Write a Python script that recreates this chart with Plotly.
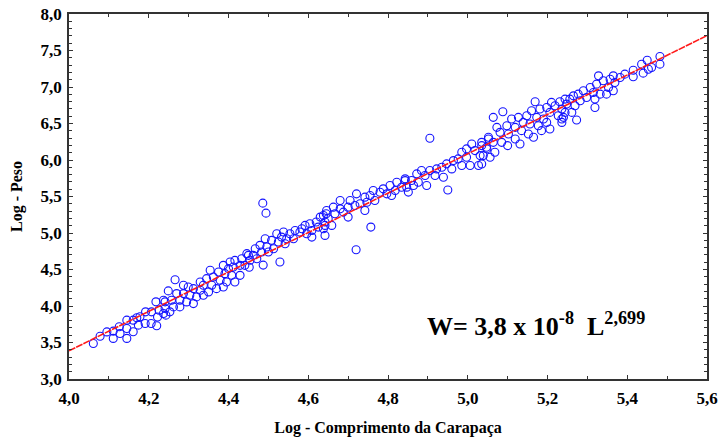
import plotly.graph_objects as go

# Log carapace length (x) and log weight (y) of each individual
log_length = [
    4.061, 4.078, 4.095, 4.111, 4.111, 4.126, 4.128, 4.145, 4.145, 4.145,
    4.161, 4.161, 4.174, 4.178, 4.191, 4.192, 4.206, 4.207, 4.220, 4.218,
    4.226, 4.241, 4.243, 4.249, 4.222, 4.170,
    4.450, 4.433, 4.416, 4.404, 4.387, 4.400, 4.412, 4.429, 4.441, 4.354,
    4.375, 4.391, 4.408, 4.429, 4.345, 4.362, 4.379, 4.395, 4.416, 4.266,
    4.329, 4.337, 4.358, 4.370, 4.387, 4.287, 4.299, 4.312, 4.329, 4.350,
    4.270, 4.287, 4.303, 4.320, 4.337, 4.237, 4.257, 4.278, 4.295, 4.312,
    4.241, 4.262, 4.278, 4.237, 4.253,
    4.486, 4.494, 4.645, 4.630, 4.642, 4.620, 4.604, 4.592, 4.625, 4.584,
    4.609, 4.638, 4.567, 4.579, 4.538, 4.554, 4.596, 4.609, 4.521, 4.533,
    4.546, 4.563, 4.492, 4.508, 4.525, 4.542, 4.479, 4.496, 4.513, 4.467,
    4.483, 4.500, 4.529, 4.446, 4.462, 4.454, 4.471, 4.452, 4.487,
    4.843, 4.822, 4.805, 4.788, 4.818, 4.834, 4.763, 4.780, 4.797, 4.809,
    4.721, 4.742, 4.755, 4.767, 4.680, 4.705, 4.717, 4.730, 4.747, 4.700,
    4.742, 4.663, 4.680, 4.688, 4.646, 4.667, 4.700, 4.638, 4.650, 4.642,
    4.659, 4.642, 4.757, 4.720,
    4.905, 5.052, 5.010, 5.035, 4.997, 5.018, 5.048, 4.985, 4.964, 4.976,
    4.997, 5.031, 5.027, 5.006, 4.985, 4.947, 4.935, 4.960, 4.922, 4.905,
    4.884, 4.872, 4.893, 4.918, 4.939, 4.843, 4.859, 4.876, 4.897, 4.847,
    4.864, 4.851, 4.950,
    5.064, 5.088, 5.169, 5.210, 5.231, 5.244, 5.219, 5.198, 5.181, 5.160,
    5.236, 5.206, 5.227, 5.236, 5.148, 5.173, 5.190, 5.110, 5.127, 5.139,
    5.156, 5.177, 5.198, 5.206, 5.185, 5.098, 5.119, 5.135, 5.152, 5.165,
    5.073, 5.081, 5.102, 5.119, 5.131, 5.052, 5.064, 5.085, 5.100, 5.035,
    5.047, 5.068, 5.039, 5.056, 5.035,
    5.450, 5.436, 5.453, 5.415, 5.394, 5.365, 5.382, 5.357, 5.328, 5.340,
    5.369, 5.323, 5.353, 5.365, 5.307, 5.315, 5.332, 5.348, 5.290, 5.277,
    5.298, 5.319, 5.265, 5.282, 5.256, 5.248, 5.269, 5.319, 5.244, 5.261,
    5.240, 5.273, 5.236, 5.415,
    5.482, 5.482, 5.461, 5.440,
]
log_weight = [
    3.487, 3.585, 3.645, 3.656, 3.556, 3.715, 3.624, 3.806, 3.692, 3.556,
    3.806, 3.647, 3.738, 3.852, 3.761, 3.920, 3.761, 3.920, 3.729, 4.057,
    3.943, 4.057, 3.875, 4.207, 3.850, 3.840,
    4.694, 4.648, 4.625, 4.603, 4.557, 4.512, 4.535, 4.557, 4.557, 4.489,
    4.466, 4.443, 4.420, 4.420, 4.375, 4.398, 4.352, 4.329, 4.329, 4.360,
    4.329, 4.284, 4.284, 4.238, 4.261, 4.284, 4.261, 4.238, 4.216, 4.193,
    4.170, 4.170, 4.147, 4.125, 4.147, 4.079, 4.079, 4.079, 4.056, 4.033,
    3.965, 3.988, 3.988, 3.897, 3.920,
    5.409, 5.272, 5.263, 5.218, 5.150, 5.150, 5.127, 5.104, 5.081, 5.058,
    5.035, 5.058, 5.035, 5.013, 5.013, 4.990, 4.990, 4.944, 4.990, 4.944,
    4.922, 4.922, 4.922, 4.899, 4.876, 4.853, 4.831, 4.808, 4.785, 4.785,
    4.740, 4.740, 4.603, 4.717, 4.694, 4.626, 4.648, 4.530, 4.560,
    5.718, 5.696, 5.650, 5.605, 5.582, 5.627, 5.582, 5.559, 5.536, 5.514,
    5.536, 5.491, 5.514, 5.445, 5.445, 5.445, 5.377, 5.400, 5.422, 5.354,
    5.308, 5.354, 5.331, 5.286, 5.308, 5.263, 5.218, 5.240, 5.195, 5.104,
    5.104, 4.967, 5.081, 4.770,
    6.297, 6.288, 6.220, 6.197, 6.152, 6.129, 6.152, 6.106, 5.992, 6.015,
    6.038, 6.060, 5.924, 5.924, 5.924, 5.947, 5.901, 5.878, 5.878, 5.856,
    5.856, 5.810, 5.787, 5.787, 5.764, 5.742, 5.719, 5.696, 5.651, 5.628,
    5.651, 5.560, 5.590,
    6.584, 6.661, 6.798, 6.789, 6.798, 6.834, 6.743, 6.720, 6.698, 6.675,
    6.698, 6.652, 6.607, 6.561, 6.607, 6.584, 6.561, 6.561, 6.584, 6.515,
    6.493, 6.470, 6.515, 6.424, 6.402, 6.470, 6.447, 6.402, 6.356, 6.311,
    6.447, 6.379, 6.356, 6.288, 6.219, 6.311, 6.242, 6.242, 6.197, 6.242,
    6.174, 6.106, 6.060, 6.037, 5.946,
    7.367, 7.312, 7.244, 7.230, 7.176, 7.153, 7.130, 7.107, 7.153, 7.085,
    7.062, 7.039, 6.993, 6.948, 6.993, 6.925, 6.902, 6.902, 6.948, 6.902,
    6.857, 6.834, 6.879, 6.811, 6.834, 6.766, 6.743, 6.720, 6.652, 6.652,
    6.584, 6.547, 6.515, 7.140,
    7.417, 7.313, 7.267, 7.190,
]

# Fitted log-log regression: log W = a + b log L
slope_b = 2.699
intercept_a = -7.41
x_range = [4.0, 5.6]
y_range = [3.0, 8.0]

fit_x = x_range
fit_y = [intercept_a + slope_b * v for v in fit_x]

serif = "Liberation Serif"

fig = go.Figure()
fig.add_trace(go.Scatter(
    x=log_length, y=log_weight, mode="markers",
    marker=dict(symbol="circle-open", size=8, color="#1414ff",
                line=dict(width=1.1, color="#1414ff")),
    showlegend=False, hoverinfo="x+y",
))
fig.add_trace(go.Scatter(
    x=fit_x, y=fit_y, mode="lines",
    line=dict(color="#ff1a1a", width=1.6, dash="7px,1px"),
    showlegend=False, hoverinfo="skip",
))

axis_common = dict(
    showgrid=False, zeroline=False, automargin=False,
    showline=True, linecolor="#333333", linewidth=1.5, mirror="allticks",
    ticks="inside", ticklen=4, tickwidth=1, tickcolor="#333333",
    tickfont=dict(family=serif, size=17, color="black", weight="bold"),
    tickformat=".1f",
)

fig.update_layout(
    width=720, height=441,
    margin=dict(l=69, r=13, t=14, b=62),
    paper_bgcolor="white", plot_bgcolor="white",
    font=dict(family=serif, color="black"),
    separators=",.",
    xaxis=dict(
        range=x_range, dtick=0.2, tick0=4.0, ticklabelstandoff=3,
        minor=dict(dtick=0.1, ticks="inside", ticklen=3, tickcolor="#333333"),
        title=dict(text="Log - Comprimento da Carapaça", standoff=15,
                   font=dict(family=serif, size=16, color="black", weight="bold")),
        **axis_common,
    ),
    yaxis=dict(
        range=y_range, dtick=0.5, tick0=3.0, ticklabelstandoff=2,
        minor=dict(dtick=0.1, ticks="inside", ticklen=3, tickcolor="#333333"),
        title=dict(text="Log - Peso", standoff=14,
                   font=dict(family=serif, size=16, color="black", weight="bold")),
        **axis_common,
    ),
    annotations=[dict(
        x=5.17, y=3.75, xref="x", yref="y", showarrow=False,
        text=f"W= 3,8 x 10<sup>-8</sup>  L<sup>{slope_b:.3f}</sup>".replace(".", ","),
        font=dict(family=serif, size=26, color="black", weight="bold"),
    )],
)

fig.write_html("out.html")
